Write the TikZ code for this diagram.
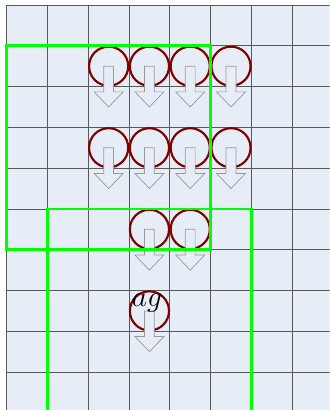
\documentclass[tikz,border=0pt]{standalone}
\usepackage{amsmath,amssymb}
\definecolor{fondo}{HTML}{E7EDF7}
\definecolor{granate}{HTML}{800000}
\definecolor{verde}{HTML}{00FF00}
\tikzset{
  drop/.pic={
    \draw[ball] (0,0) circle(0.48);
    \draw[dropar] (-0.12,0) -- (-0.12,-0.63) -- (-0.355,-0.63) -- (0,-1)
      -- (0.355,-0.63) -- (0.12,-0.63) -- (0.12,0) -- cycle;
  }
}

\begin{document}
\begin{tikzpicture}[
  ball/.style={granate,line width=1.5pt},
  dropar/.style={draw=gray!80,fill=fondo,line width=0.5pt},
  zone/.style={verde,line width=2pt}]
  \useasboundingbox (-0.164,0.123) rectangle (7.92,-9.93);
  \clip (-0.164,0.123) rectangle (7.92,-9.93);
  \fill[fondo] (0,0) rectangle (8,-10);
  \draw[black!65,line width=0.6pt] (0,0) grid (8,-10);
  % falling pieces
  \foreach \x in {2,...,5} {
    \pic at (\x+0.5,-1.5) {drop};
    \pic at (\x+0.5,-3.5) {drop};
  }
  \foreach \x in {3,4}
    \pic at (\x+0.5,-5.5) {drop};
  \pic at (3.5,-7.5) {drop};
  \node[font=\huge,inner sep=0pt,anchor=base] (ag) at (3.44,-7.39) {$ag$};
  % zones
  \draw[zone] (0,-1) rectangle (5,-6);
  \draw[zone] (1,-5) rectangle (6,-10);
\end{tikzpicture}
\end{document}
